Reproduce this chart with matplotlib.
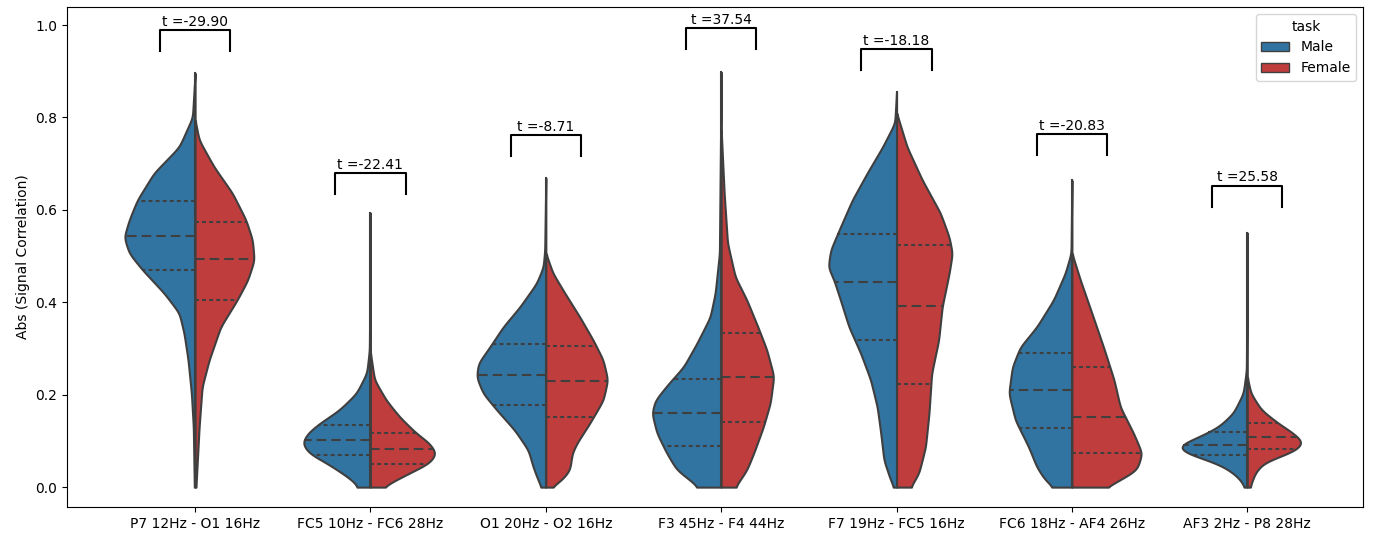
import numpy as np
import matplotlib
matplotlib.use("Agg")
import matplotlib.pyplot as plt
from matplotlib.patches import Patch

# category labels along the x axis
pairs = ["P7 12Hz - O1 16Hz", "FC5 10Hz - FC6 28Hz", "O1 20Hz - O2 16Hz",
         "F3 45Hz - F4 44Hz", "F7 19Hz - FC5 16Hz", "FC6 18Hz - AF4 26Hz",
         "AF3 2Hz - P8 28Hz"]
t_values = [-29.90, -22.41, -8.71, 37.54, -18.18, -20.83, 25.58]
bracket_y = [0.989, 0.680, 0.762, 0.993, 0.948, 0.764, 0.652]

# half-violin outlines: (y, half width) pairs
male_profiles = [
    [(0.0, 0.004), (0.13, 0.01), (0.203, 0.021), (0.275, 0.04), (0.333, 0.063), (0.377, 0.091),
     (0.42, 0.177), (0.47, 0.30), (0.506, 0.376), (0.541, 0.405), (0.578, 0.376), (0.621, 0.33),
     (0.68, 0.234), (0.736, 0.091), (0.80, 0.015), (0.896, 0.0)],
    [(0.0, 0.07), (0.011, 0.091), (0.03, 0.16), (0.052, 0.25), (0.073, 0.35), (0.095, 0.39),
     (0.117, 0.358), (0.138, 0.29), (0.167, 0.177), (0.203, 0.08), (0.247, 0.021), (0.297, 0.006),
     (0.593, 0.0)],
    [(0.0, 0.025), (0.015, 0.044), (0.043, 0.072), (0.08, 0.10), (0.123, 0.177), (0.167, 0.28),
     (0.203, 0.358), (0.238, 0.395), (0.268, 0.385), (0.303, 0.32), (0.347, 0.243), (0.39, 0.148),
     (0.441, 0.053), (0.476, 0.015), (0.513, 0.006), (0.669, 0.0)],
    [(0.0, 0.13), (0.015, 0.177), (0.037, 0.253), (0.073, 0.31), (0.117, 0.367), (0.16, 0.395),
     (0.188, 0.376), (0.224, 0.30), (0.26, 0.215), (0.311, 0.139), (0.368, 0.063), (0.42, 0.034),
     (0.506, 0.01), (0.898, 0.0)],
    [(0.0, 0.015), (0.015, 0.034), (0.058, 0.072), (0.117, 0.09), (0.173, 0.11), (0.232, 0.148),
     (0.29, 0.205), (0.347, 0.272), (0.405, 0.32), (0.448, 0.357), (0.476, 0.39), (0.513, 0.376),
     (0.563, 0.32), (0.621, 0.253), (0.68, 0.167), (0.736, 0.08), (0.788, 0.01), (0.855, 0.0)],
    [(0.0, 0.105), (0.015, 0.152), (0.043, 0.20), (0.087, 0.247), (0.145, 0.323), (0.203, 0.36),
     (0.26, 0.34), (0.303, 0.295), (0.347, 0.20), (0.405, 0.105), (0.463, 0.038), (0.506, 0.005),
     (0.664, 0.0)],
    [(0.0, 0.013), (0.021, 0.05), (0.043, 0.127), (0.058, 0.222), (0.073, 0.347), (0.087, 0.397),
     (0.095, 0.365), (0.108, 0.28), (0.13, 0.165), (0.16, 0.08), (0.203, 0.023), (0.253, 0.005),
     (0.55, 0.0)],
]
female_profiles = [
    [(0.0, 0.005), (0.058, 0.013), (0.13, 0.023), (0.217, 0.04), (0.275, 0.08), (0.347, 0.146),
     (0.405, 0.24), (0.448, 0.30), (0.491, 0.337), (0.535, 0.327), (0.578, 0.29), (0.636, 0.213),
     (0.693, 0.108), (0.751, 0.023), (0.794, 0.0)],
    [(0.0, 0.07), (0.008, 0.108), (0.03, 0.22), (0.052, 0.337), (0.073, 0.376), (0.095, 0.337),
     (0.117, 0.26), (0.152, 0.166), (0.188, 0.09), (0.232, 0.023), (0.29, 0.0)],
    [(0.0, 0.03), (0.015, 0.09), (0.037, 0.137), (0.073, 0.15), (0.095, 0.177), (0.138, 0.25),
     (0.188, 0.327), (0.232, 0.353), (0.275, 0.327), (0.318, 0.27), (0.368, 0.194), (0.42, 0.108),
     (0.463, 0.04), (0.506, 0.0)],
    [(0.0, 0.08), (0.037, 0.146), (0.073, 0.185), (0.13, 0.24), (0.182, 0.28), (0.24, 0.30),
     (0.297, 0.26), (0.346, 0.21), (0.405, 0.146), (0.455, 0.08), (0.528, 0.036), (0.636, 0.017),
     (0.773, 0.0)],
    [(0.0, 0.08), (0.03, 0.127), (0.087, 0.165), (0.16, 0.185), (0.246, 0.20), (0.318, 0.24),
     (0.39, 0.26), (0.463, 0.30), (0.506, 0.318), (0.541, 0.30), (0.593, 0.25), (0.665, 0.146),
     (0.736, 0.06), (0.81, 0.0)],
    [(0.0, 0.19), (0.008, 0.24), (0.037, 0.37), (0.073, 0.40), (0.116, 0.352), (0.173, 0.276),
     (0.232, 0.24), (0.303, 0.18), (0.376, 0.114), (0.448, 0.048), (0.506, 0.0)],
    [(0.0, 0.015), (0.03, 0.044), (0.052, 0.09), (0.065, 0.177), (0.08, 0.28), (0.097, 0.32),
     (0.117, 0.262), (0.138, 0.177), (0.167, 0.08), (0.203, 0.02), (0.238, 0.0)],
]

# quartiles (q1, median, q3)
male_quart = [(0.470, 0.544, 0.620), (0.069, 0.102, 0.134), (0.178, 0.242, 0.310),
              (0.090, 0.160, 0.235), (0.318, 0.443, 0.547), (0.127, 0.210, 0.290),
              (0.069, 0.091, 0.119)]
female_quart = [(0.405, 0.493, 0.574), (0.050, 0.082, 0.117), (0.151, 0.230, 0.305),
                (0.141, 0.238, 0.333), (0.223, 0.392, 0.525), (0.074, 0.152, 0.260),
                (0.082, 0.108, 0.139)]

blue = "#3274a1"
red = "#c03d3e"
edge = "#3f3f3f"

fig = plt.figure(figsize=(13.74, 5.39), dpi=100)
ax = fig.add_axes([0.0488, 0.0594, 0.9432, 0.9276])


def outline(prof):
    # round off the corners of the read-off outline for drawing
    prof = np.array(prof)
    ys = np.linspace(prof[0, 0], prof[-1, 0], 400)
    ws = np.interp(ys, prof[:, 0], prof[:, 1])
    step = ys[1] - ys[0]
    sig = 0.008 / step
    k = np.arange(-int(3 * sig) - 1, int(3 * sig) + 2)
    ker = np.exp(-0.5 * (k / sig) ** 2)
    ker /= ker.sum()
    pad = len(k) // 2
    wp = np.concatenate([np.full(pad, ws[0]), ws, np.full(pad, ws[-1])])
    ws = np.convolve(wp, ker, mode="valid")
    ws[-1] = 0.0
    return ys, ws


def draw_half(pos, prof, quart, side, color):
    y, w = outline(prof)
    ax.fill_betweenx(y, pos, pos + side * w, facecolor=color, edgecolor=edge,
                     linewidth=1.5, zorder=2)
    for k, q in enumerate(quart):
        wq = np.interp(q, y, w)
        dash = (4.6, 2.4) if k == 1 else (1.9, 1.5)
        ax.plot([pos, pos + side * wq], [q, q], color=edge, linewidth=1.5,
                dashes=dash, zorder=3)


for i in range(len(pairs)):
    draw_half(i, male_profiles[i], male_quart[i], -1, blue)
    draw_half(i, female_profiles[i], female_quart[i], 1, red)
    top = max(male_profiles[i][-1][0], female_profiles[i][-1][0])
    ax.plot([i, i], [0, top], color=edge, linewidth=1.5, zorder=2.5)
    b = bracket_y[i]
    ax.plot([i - 0.2, i - 0.2, i + 0.2, i + 0.2], [b - 0.045, b, b, b - 0.045],
            color="black", linewidth=1.5, zorder=4)
    ax.text(i, b + 0.003, f"t ={t_values[i]:.2f}", ha="center", va="bottom", fontsize=10)

ax.set_xticks(range(len(pairs)))
ax.set_xticklabels(pairs)
ax.set_xlim(-0.73, 6.66)
ax.set_ylim(-0.043, 1.039)
ax.set_yticks([0.0, 0.2, 0.4, 0.6, 0.8, 1.0])
ax.set_ylabel("Abs (Signal Correlation)")

handles = [Patch(facecolor=blue, edgecolor=edge, label="Male"),
           Patch(facecolor=red, edgecolor=edge, label="Female")]
ax.legend(handles=handles, title="task", loc="upper right")

fig.savefig("out.png", dpi=100)
